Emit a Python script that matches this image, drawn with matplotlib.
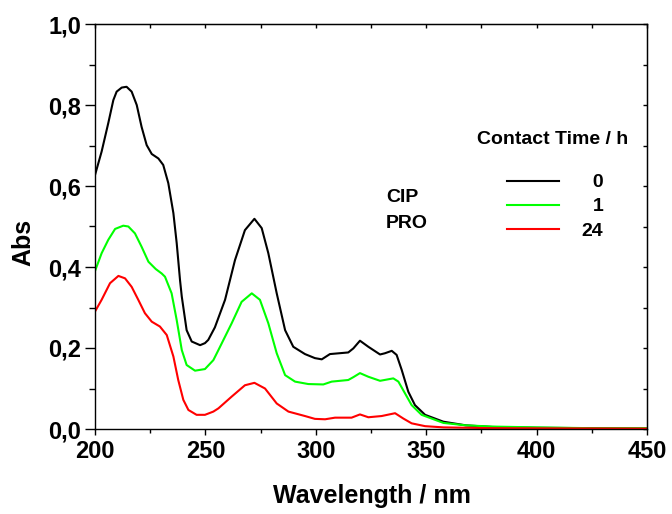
import matplotlib
matplotlib.use("Agg")
import matplotlib.pyplot as plt
from matplotlib.ticker import MultipleLocator, FixedLocator, FixedFormatter

plt.rcParams['font.family'] = ['Liberation Sans', 'DejaVu Sans']
plt.rcParams['font.weight'] = 'bold'

# ---- data ----
wl_0 = [200, 203.0, 206.0, 208.3, 209.8, 212.1, 214.3, 216.6, 218.9, 221.1, 223.4, 225.7,
        228.7, 230.9, 233.2, 235.5, 237.0, 238.5, 239.3, 241.5, 243.8, 247.6, 249.8, 251.3,
        254.3, 258.9, 263.4, 267.9, 272.2, 275.5, 278.5, 282.3, 286.1, 289.8, 295.1, 299.6,
        302.7, 306.4, 314.7, 317.0, 320.0, 323.8, 329.1, 331.3, 334.4, 336.6, 338.9, 341.9,
        344.9, 349.5, 357.8, 368, 380, 400, 425, 450]
abs_0 = [0.627, 0.685, 0.755, 0.812, 0.833, 0.843, 0.845, 0.833, 0.800, 0.746, 0.701, 0.679,
         0.668, 0.652, 0.607, 0.533, 0.459, 0.368, 0.327, 0.244, 0.216, 0.207, 0.212, 0.220,
         0.251, 0.319, 0.417, 0.491, 0.519, 0.496, 0.434, 0.335, 0.244, 0.203, 0.185, 0.175,
         0.172, 0.185, 0.189, 0.199, 0.218, 0.203, 0.184, 0.187, 0.193, 0.183, 0.146, 0.092,
         0.059, 0.035, 0.018, 0.009, 0.005, 0.003, 0.002, 0.001]

wl_1 = [200, 203.0, 206.0, 209.1, 212.8, 215.1, 218.1, 221.1, 224.2, 227.5, 230.2, 231.7,
        234.7, 237.0, 239.3, 241.5, 245.3, 249.8, 253.6, 255.9, 261.9, 266.4, 271.0, 274.7,
        278.5, 282.3, 286.1, 290.6, 296.6, 303.4, 307.2, 314.7, 317.0, 320.0, 323.8, 329.1,
        335.1, 337.4, 340.4, 343.4, 347.9, 357.8, 368, 380, 400, 425, 450]
abs_1 = [0.390, 0.434, 0.467, 0.494, 0.502, 0.500, 0.483, 0.450, 0.413, 0.395, 0.384, 0.376,
         0.335, 0.269, 0.195, 0.158, 0.144, 0.148, 0.170, 0.195, 0.261, 0.314, 0.335, 0.319,
         0.261, 0.187, 0.133, 0.117, 0.111, 0.110, 0.117, 0.121, 0.128, 0.138, 0.129, 0.119,
         0.125, 0.117, 0.088, 0.059, 0.035, 0.015, 0.009, 0.006, 0.004, 0.002, 0.002]

wl_24 = [200, 203.0, 206.8, 210.6, 213.6, 216.6, 219.6, 222.6, 225.7, 229.4, 232.5, 235.5,
         237.7, 240.0, 242.3, 246.0, 249.8, 253.6, 255.9, 261.9, 267.9, 272.2, 277.0, 282.3,
         287.6, 295.1, 299.6, 304.2, 308.7, 316.2, 320.0, 323.8, 329.8, 335.9, 339.6, 343.4,
         349.5, 357.8, 380, 450]
abs_24 = [0.290, 0.319, 0.360, 0.378, 0.372, 0.351, 0.319, 0.286, 0.265, 0.253, 0.232, 0.179,
          0.121, 0.072, 0.047, 0.035, 0.035, 0.043, 0.051, 0.080, 0.108, 0.114, 0.100, 0.063,
          0.043, 0.032, 0.025, 0.024, 0.028, 0.028, 0.036, 0.029, 0.032, 0.039, 0.026, 0.014,
          0.007, 0.004, 0.002, 0.001]

series_labels = ["\u20070", "\u20071", "24"]
series_colors = ["#000000", "#00ff00", "#ff0000"]

x_ticks = [200, 250, 300, 350, 400, 450]
x_tick_labels = ["200", "250", "300", "350", "400", "450"]
y_ticks = [0.0, 0.2, 0.4, 0.6, 0.8, 1.0]
y_tick_labels = ["0,0", "0,2", "0,4", "0,6", "0,8", "1,0"]

# ---- figure ----
fig = plt.figure(figsize=(6.72, 5.14), dpi=100)
ax = fig.add_axes([95/672, 1-429/514, 552/672, 405/514])

series = [(wl_0, abs_0), (wl_1, abs_1), (wl_24, abs_24)]
handles = []
for (x, y), c, lab in zip(series, series_colors, series_labels):
    h, = ax.plot(x, y, color=c, lw=1.5, label=lab, solid_joinstyle='round')
    handles.append(h)

ax.set_xlim(200, 450)
ax.set_ylim(0, 1.0)
ax.xaxis.set_major_locator(FixedLocator(x_ticks))
ax.xaxis.set_major_formatter(FixedFormatter(x_tick_labels))
ax.xaxis.set_minor_locator(MultipleLocator(25))
ax.yaxis.set_major_locator(FixedLocator(y_ticks))
ax.yaxis.set_major_formatter(FixedFormatter(y_tick_labels))
ax.yaxis.set_minor_locator(MultipleLocator(0.1))

for s in ax.spines.values():
    s.set_linewidth(1.0)

ax.tick_params(axis='x', which='major', direction='out', length=4, width=1.0,
               labelsize=17, pad=4)
ax.tick_params(axis='x', which='minor', direction='out', length=3, width=1.0)
ax.tick_params(axis='y', which='major', direction='out', length=7, width=1.0,
               labelsize=17, pad=3)
ax.tick_params(axis='y', which='minor', direction='out', length=4, width=1.0)
for lab in ax.get_xticklabels() + ax.get_yticklabels():
    lab.set_fontweight('bold')

# top / right inward ticks
sx = ax.secondary_xaxis('top')
sx.xaxis.set_major_locator(FixedLocator(x_ticks))
sx.xaxis.set_minor_locator(MultipleLocator(25))
sx.tick_params(which='both', direction='in', length=3, width=1.0, labeltop=False)
sy = ax.secondary_yaxis('right')
sy.yaxis.set_major_locator(FixedLocator(y_ticks))
sy.yaxis.set_minor_locator(MultipleLocator(0.1))
sy.tick_params(which='both', direction='in', length=3, width=1.0, labelright=False)

fig.text(372/672, 1-503/514, "Wavelength / nm", ha='center', va='baseline',
         fontsize=18, fontweight='bold')
fig.text(23/672, 1-242/514, "Abs", ha='center', va='center', rotation=90,
         fontsize=18, fontweight='bold')

ax.text(0.8297, 0.7037, "Contact Time / h", transform=ax.transAxes, ha='center',
        va='baseline', fontsize=14, fontweight='bold')
ax.text(0.527, 0.561, "CIP", transform=ax.transAxes, ha='left', va='baseline',
        fontsize=14, fontweight='bold')
ax.text(0.527, 0.4955, "PRO", transform=ax.transAxes, ha='left', va='baseline',
        fontsize=14, fontweight='bold')

leg = ax.legend(handles=handles, loc='upper left', bbox_to_anchor=(0.746, 0.630),
                frameon=False, borderaxespad=0, borderpad=0, handlelength=2.7,
                handletextpad=1.15, labelspacing=0.33,
                prop={'size': 14, 'weight': 'bold', 'family': ['Liberation Sans', 'DejaVu Sans']})
for line in leg.get_lines():
    line.set_linewidth(1.5)

fig.savefig("out.png", dpi=100)
